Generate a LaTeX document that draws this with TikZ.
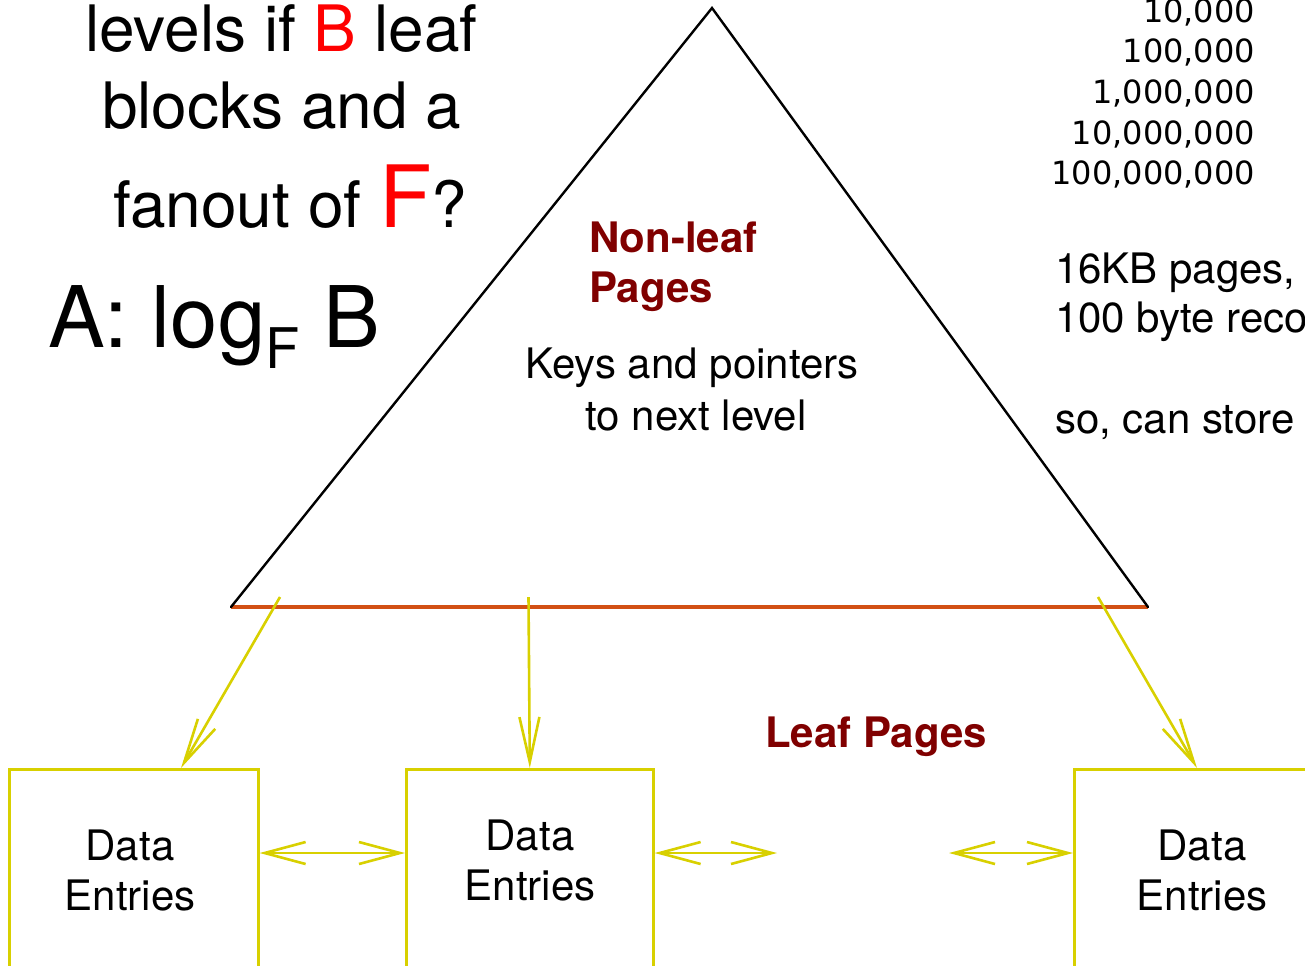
\documentclass[tikz,border=0pt]{standalone}
\usepackage{fontspec}
\setmainfont{TeX Gyre Heros}
\newfontfamily\numfont{DejaVu Sans}
\usetikzlibrary{arrows.meta}
\definecolor{ylw}{RGB}{216,208,0}
\definecolor{basecol}{RGB}{210,80,20}
\definecolor{dkred}{RGB}{128,0,0}
\definecolor{brightred}{RGB}{255,0,0}
\begin{document}
\begin{tikzpicture}[x=0.5pt,y=-0.5pt,
  txt/.style={inner sep=0pt, outer sep=0pt, font=\fontsize{21}{25}\selectfont},
  big/.style={inner sep=0pt, outer sep=0pt, anchor=base west, font=\fontsize{32}{38}\selectfont},
  heading/.style={inner sep=0pt, outer sep=0pt, anchor=base west, text=dkred, font=\fontsize{21}{25}\selectfont\bfseries},
  num/.style={inner sep=0pt, outer sep=0pt, anchor=base east, font=\numfont\fontsize{16}{19}\selectfont},
  databox/.style={draw=ylw, line width=1.3pt, minimum height=123.5pt, anchor=north west, inner sep=0pt},
  ptr/.style={draw=ylw, line width=1.3pt, -{Straight Barb[length=22.5pt,width=10pt]}},
  sib/.style={draw=ylw, line width=1.3pt, {Straight Barb[length=20.5pt,width=11pt]}-{Straight Barb[length=20.5pt,width=11pt]}},
  tri/.style={draw=black, line width=1.2pt, line cap=round},
  basel/.style={draw=basecol, line width=1.7pt}
]
\useasboundingbox (0,0) rectangle (1305,965);
\clip (0,0) rectangle (1305,965);

% question text
\node[big] (q1) at (85,51) {levels if \textcolor{brightred}{B} leaf};
\node[big] (q2) at (102,128) {blocks and a};
\node[big] (q3) at (113,227) {fanout of \textcolor{brightred}{\fontsize{43}{50}\selectfont F}?};
\node[inner sep=0pt, outer sep=0pt, anchor=base west, font=\fontsize{42.5}{50}\selectfont] (ans) at (48,347)
  {A: log\raisebox{-10.5pt}{\fontsize{28}{32}\selectfont F} B};

% triangle
\coordinate (apex) at (712,8);
\coordinate (bl) at (231,607);
\coordinate (br) at (1148,607);
\draw[basel] (bl) -- (br);
\draw[tri] (bl) -- (apex) -- (br);

\node[heading] (nl1) at (589,252) {Non-leaf};
\node[heading] (nl2) at (589,302) {Pages};
\node[txt, anchor=base] (k1) at (692,378) {Keys and pointers};
\node[txt, anchor=base] (k2) at (696,430) {to next level};

% right side numbers
\node[num] (n1) at (1255,22) {10,000};
\node[num] (n2) at (1255,62.5) {100,000};
\node[num] (n3) at (1255,103) {1,000,000};
\node[num] (n4) at (1255,144) {10,000,000};
\node[num] (n5) at (1255,184.5) {100,000,000};

\node[txt, anchor=base west] (r1) at (1055,283) {16KB pages,};
\node[txt, anchor=base west] (r2) at (1055,332) {100 byte records};
\node[txt, anchor=base west] (r3) at (1055,433) {so, can store};

% leaf pages
\node[heading] (lp) at (765,747) {Leaf Pages};

\node[databox, minimum width=124.5pt] (b1) at (8,768) {};
\node[databox, minimum width=123.5pt] (b2) at (405,768) {};
\node[databox, minimum width=150pt] (b3) at (1073,768) {};

\node[txt, anchor=base] (d1a) at (130,860) {Data};
\node[txt, anchor=base] (d1b) at (130,910) {Entries};
\node[txt, anchor=base] (d2a) at (530,850) {Data};
\node[txt, anchor=base] (d2b) at (530,900) {Entries};
\node[txt, anchor=base] (d3a) at (1202,860) {Data};
\node[txt, anchor=base] (d3b) at (1202,910) {Entries};

% pointers
\coordinate (s1) at (280,597);
\coordinate (s2) at (528.5,597);
\coordinate (s3) at (1098,597);
\coordinate (t1) at (181,768);
\coordinate (t3) at (1197,768);
\draw[ptr] (s1) -- (t1);
\draw[ptr] (s2) -- (b2.north);
\draw[ptr] (s3) -- (t3);

% sibling links
\coordinate (m1) at (777,853);
\coordinate (m2) at (949,853);
\draw[sib] (b1.north east |- 0,853) -- (b2.north west |- 0,853);
\draw[sib] (b2.north east |- 0,853) -- (m1);
\draw[sib] (m2) -- (b3.north west |- 0,853);
\end{tikzpicture}
\end{document}
